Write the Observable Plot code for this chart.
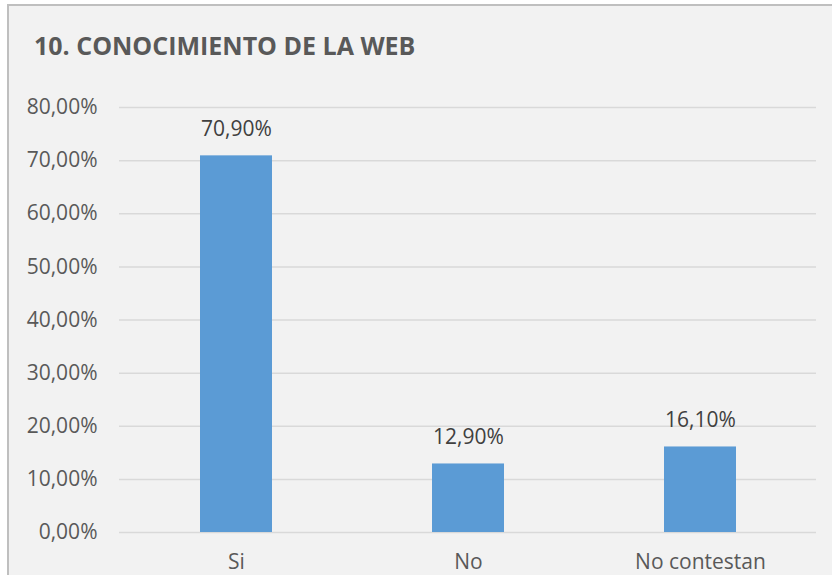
<!DOCTYPE html>
<html>
<head>
<meta charset="utf-8">
<script src="https://cdn.jsdelivr.net/npm/d3@7"></script>
<script src="https://cdn.jsdelivr.net/npm/@observablehq/plot@0.6"></script>
<style>
  html, body { margin: 0; padding: 0; width: 832px; height: 575px; overflow: hidden; background: #ffffff; }
  #frame { position: absolute; left: 7px; top: 4px; width: 840px; height: 590px; background: #f2f2f2; border-left: 2px solid #bfbfbf; border-top: 2px solid #bfbfbf; }
  #title { position: absolute; left: 34px; top: 28px; font-family: "Open Sans", sans-serif; font-weight: bold; font-size: 25px; color: #595959; white-space: nowrap; }
  #chart { position: absolute; left: 0; top: 80px; }
</style>
</head>
<body>
<div id="frame"></div>
<div id="title">10. CONOCIMIENTO DE LA WEB</div>
<div id="chart"></div>
<script>
const categories = ["Si", "No", "No contestan"];
const values = [0.709, 0.129, 0.161];
const yTicks = [0, 0.1, 0.2, 0.3, 0.4, 0.5, 0.6, 0.7, 0.8];

const data = categories.map((c, i) => ({category: c, value: values[i]}));
const pct = v => (v * 100).toFixed(2).replace(".", ",") + "%";

const chart = Plot.plot({
  width: 832,
  height: 495,
  marginLeft: 119,
  marginRight: 16,
  marginTop: 27,
  marginBottom: 43,
  style: {background: "transparent", fontFamily: "'Open Sans', sans-serif", fontSize: "21px", color: "#595959"},
  x: {domain: categories, paddingInner: 0.69, paddingOuter: 0.345, label: null},
  y: {domain: [0, 0.8], label: null},
  marks: [
    Plot.gridY(yTicks, {stroke: "#d9d9d9", strokeOpacity: 1, strokeWidth: 1.5}),
    Plot.barY(data, {x: "category", y: "value", fill: "#5b9bd5"}),
    Plot.text(data, {x: "category", y: "value", text: d => pct(d.value), dy: -27, fill: "#404040", fontSize: 21}),
    Plot.axisY(yTicks, {tickSize: 0, tickPadding: 22, tickFormat: pct, fontSize: 21, fill: "#595959", label: null}),
    Plot.axisX({tickSize: 0, tickPadding: 22, fontSize: 21, fill: "#595959", label: null})
  ]
});
document.getElementById("chart").appendChild(chart);
</script>
</body>
</html>
